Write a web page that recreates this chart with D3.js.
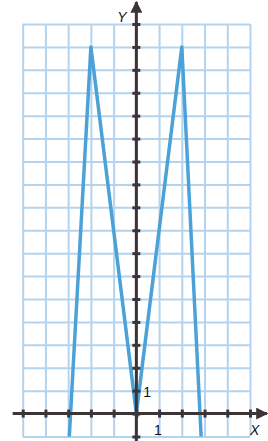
<!DOCTYPE html>
<html>
<head>
<meta charset="utf-8">
<script src="https://cdn.jsdelivr.net/npm/d3@7"></script>
<style>
  html, body { margin: 0; padding: 0; background: #fff; }
  svg { display: block; }
  .lbl { font-family: "Liberation Sans", "DejaVu Sans", sans-serif; font-size: 14px; fill: #111; }
</style>
</head>
<body>
<div id="chart"></div>
<script>
// values
const xTicks = [-5, -4, -3, -2, -1, 0, 1, 2, 3, 4, 5];
const yTicks = d3.range(-1, 18);
const curveX = [-2.95, -2, 0, 2, 2.85];
const curveY = [-1, 16, 0, 16, -1];
const tickLabels = ['1', '1'];

const W = 268, H = 441;
const gridColor = '#b3d3ee';
const axisColor = '#3b3538';
const curveColor = '#4ba2d8';

const x = d3.scaleLinear().domain([-5, 5]).range([22.7, 250]);
const y = d3.scaleLinear().domain([-1, 17]).range([436.5, 24]);

const svg = d3.select('#chart').append('svg')
    .attr('width', W)
    .attr('height', H);

// grid
svg.append('g')
    .attr('transform', `translate(0,${y(-1)})`)
    .call(d3.axisBottom(x).tickValues(xTicks).tickSize(-(y(-1) - y(17))).tickFormat(''))
    .call(g => g.select('.domain').remove())
    .call(g => g.selectAll('line').attr('stroke', gridColor).attr('stroke-width', 2));

svg.append('g')
    .attr('transform', `translate(${x(-5)},0)`)
    .call(d3.axisLeft(y).tickValues(yTicks).tickSize(-(x(5) - x(-5))).tickFormat(''))
    .call(g => g.select('.domain').remove())
    .call(g => g.selectAll('line').attr('stroke', gridColor).attr('stroke-width', 2));

// curve
const pts = curveX.map((d, i) => [d, curveY[i]]);
svg.append('path')
    .datum(pts)
    .attr('d', d3.line().x(d => x(d[0])).y(d => y(d[1])))
    .attr('fill', 'none')
    .attr('stroke', curveColor)
    .attr('stroke-width', 3.5)
    .attr('stroke-linejoin', 'round');

// axes
const defs = svg.append('defs');
defs.append('marker')
    .attr('id', 'arrow')
    .attr('viewBox', '0 0 10 10')
    .attr('refX', 9).attr('refY', 5)
    .attr('markerWidth', 4).attr('markerHeight', 4)
    .attr('markerUnits', 'strokeWidth')
    .attr('orient', 'auto')
    .append('path')
    .attr('d', 'M0,0L10,5L0,10z')
    .attr('fill', axisColor);

svg.append('line')
    .attr('x1', x.range()[0] - 10).attr('x2', W - 1)
    .attr('y1', y(0)).attr('y2', y(0))
    .attr('stroke', axisColor).attr('stroke-width', 3)
    .attr('marker-end', 'url(#arrow)');

svg.append('line')
    .attr('x1', x(0)).attr('x2', x(0))
    .attr('y1', H).attr('y2', 2)
    .attr('stroke', axisColor).attr('stroke-width', 3)
    .attr('marker-end', 'url(#arrow)');

// axis ticks
svg.append('g')
    .attr('transform', `translate(0,${y(0) + 4})`)
    .call(d3.axisTop(x).tickValues(xTicks).tickSizeInner(8).tickSizeOuter(0).tickFormat(''))
    .call(g => g.select('.domain').remove())
    .call(g => g.selectAll('line').attr('stroke', axisColor).attr('stroke-width', 3));

svg.append('g')
    .attr('transform', `translate(${x(0) + 4},0)`)
    .call(d3.axisLeft(y).tickValues(yTicks).tickSizeInner(8).tickSizeOuter(0).tickFormat(''))
    .call(g => g.select('.domain').remove())
    .call(g => g.selectAll('line').attr('stroke', axisColor).attr('stroke-width', 3));

// labels
svg.append('text').attr('class', 'lbl')
    .attr('x', x(0) + 7).attr('y', y(1) + 6)
    .text(tickLabels[1]);
svg.append('text').attr('class', 'lbl')
    .attr('x', x(1) - 5).attr('y', y(0) + 21)
    .text(tickLabels[0]);
svg.append('text').attr('class', 'lbl')
    .attr('x', x(0) - 19).attr('y', 22)
    .style('font-style', 'italic')
    .text('Y');
svg.append('text').attr('class', 'lbl')
    .attr('x', x(5)).attr('y', y(0) + 21)
    .style('font-style', 'italic')
    .text('X');
</script>
</body>
</html>
